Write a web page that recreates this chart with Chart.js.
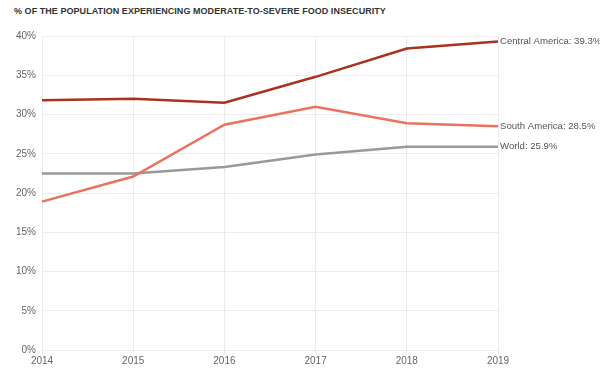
<!DOCTYPE html>
<html>
<head>
<meta charset="utf-8">
<script src="https://cdn.jsdelivr.net/npm/chart.js@4"></script>
<style>
  body { margin: 0; background: #fff; }
  #wrap { position: relative; width: 600px; height: 370px; }
  #title {
    position: absolute; left: 14px; top: 6px;
    font: bold 9px "Liberation Sans", Arial, sans-serif;
    letter-spacing: 0.05px; color: #333;
  }
  canvas { position: absolute; left: 0; top: 0; }
</style>
</head>
<body>
<div id="wrap">
  <div id="title">% OF THE POPULATION EXPERIENCING MODERATE-TO-SEVERE FOOD INSECURITY</div>
  <canvas id="chart" width="600" height="370"></canvas>
</div>
<script>
// --- datos ---
const years = ["2014", "2015", "2016", "2017", "2018", "2019"];
const centralAmerica = [31.8, 32.0, 31.5, 34.8, 38.4, 39.3];
const southAmerica = [18.9, 22.1, 28.7, 31.0, 28.9, 28.5];
const world = [22.5, 22.5, 23.3, 24.9, 25.9, 25.9];
const seriesNames = ["Central America", "South America", "World"];
const seriesColors = ["#a8321f", "#e8735e", "#999999"];

// etiquetas al final de cada linea
const endLabels = {
  id: "endLabels",
  afterDatasetsDraw(chart) {
    const ctx = chart.ctx;
    ctx.save();
    ctx.font = "9.6px 'Liberation Sans', Arial, sans-serif";
    ctx.fillStyle = "#555";
    ctx.textBaseline = "middle";
    chart.data.datasets.forEach((ds, i) => {
      const meta = chart.getDatasetMeta(i);
      const pt = meta.data[meta.data.length - 1];
      const val = ds.data[ds.data.length - 1];
      ctx.fillText(`${ds.label}: ${val}%`, pt.x + 2, pt.y);
    });
    ctx.restore();
  },
};

new Chart(document.getElementById("chart"), {
  type: "line",
  data: {
    labels: years,
    datasets: [centralAmerica, southAmerica, world].map((d, i) => ({
      label: seriesNames[i],
      data: d,
      borderColor: seriesColors[i],
      borderWidth: 2.5,
      pointRadius: 0,
      tension: 0,
    })),
  },
  options: {
    responsive: false,
    animation: false,
    layout: { padding: { top: 36, right: 102, left: 10, bottom: 2 } },
    plugins: { legend: { display: false }, tooltip: { enabled: false } },
    scales: {
      x: {
        offset: false,
        grid: { color: "#ececec", tickLength: 4 },
        border: { color: "#ececec" },
        ticks: { color: "#666", font: { size: 10, family: "'Liberation Sans', Arial, sans-serif" }, padding: 1, maxRotation: 0 },
      },
      y: {
        min: 0, max: 40,
        grid: { color: "#ececec", drawTicks: false },
        border: { display: false },
        ticks: {
          stepSize: 5,
          color: "#666",
          padding: 6,
          font: { size: 10, family: "'Liberation Sans', Arial, sans-serif" },
          callback: (v) => v + "%",
        },
      },
    },
  },
  plugins: [endLabels],
});
</script>
</body>
</html>
